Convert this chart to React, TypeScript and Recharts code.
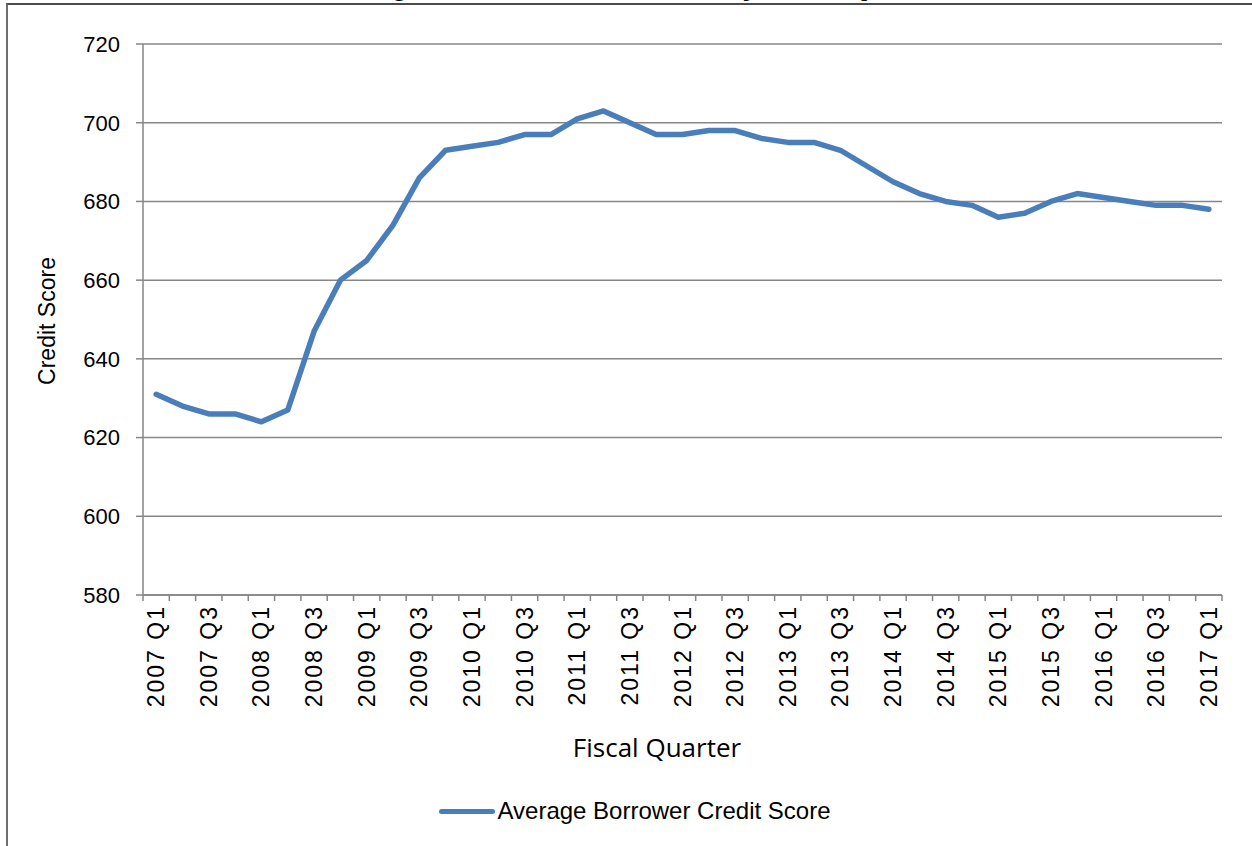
import { LineChart, Line, XAxis, YAxis, CartesianGrid, Legend } from 'recharts';

const QUARTERS = [
  '2007 Q1', '2007 Q2', '2007 Q3', '2007 Q4',
  '2008 Q1', '2008 Q2', '2008 Q3', '2008 Q4',
  '2009 Q1', '2009 Q2', '2009 Q3', '2009 Q4',
  '2010 Q1', '2010 Q2', '2010 Q3', '2010 Q4',
  '2011 Q1', '2011 Q2', '2011 Q3', '2011 Q4',
  '2012 Q1', '2012 Q2', '2012 Q3', '2012 Q4',
  '2013 Q1', '2013 Q2', '2013 Q3', '2013 Q4',
  '2014 Q1', '2014 Q2', '2014 Q3', '2014 Q4',
  '2015 Q1', '2015 Q2', '2015 Q3', '2015 Q4',
  '2016 Q1', '2016 Q2', '2016 Q3', '2016 Q4',
  '2017 Q1',
];

const CREDIT_SCORE = [
  631, 628, 626, 626,
  624, 627, 647, 660,
  665, 674, 686, 693,
  694, 695, 697, 697,
  701, 703, 700, 697,
  697, 698, 698, 696,
  695, 695, 693, 689,
  685, 682, 680, 679,
  676, 677, 680, 682,
  681, 680, 679, 679,
  678,
];

const Y_TICKS = [580, 600, 620, 640, 660, 680, 700, 720];

const W = 1252;
const H = 846;
const PLOT_LEFT = 143;
const PLOT_RIGHT = 1222;
const PLOT_TOP = 44;
const PLOT_BOTTOM = 595;
const STEP = (PLOT_RIGHT - PLOT_LEFT) / QUARTERS.length;

const FONT = '"Liberation Sans", Arial, sans-serif';
const GRID = '#868686';
const BLUE = '#4a7ebb';

const data = QUARTERS.map((q, i) => ({ quarter: q, score: CREDIT_SCORE[i] }));

// excel style: tick marks sit between categories, labels on every other one
function QuarterTick(props: any) {
  const { x, y, payload, index } = props;
  const left = x - STEP / 2;
  return (
    <g>
      <line x1={left} x2={left} y1={y} y2={y + 6} stroke={GRID} strokeWidth={1.5} />
      {index === QUARTERS.length - 1 && (
        <line x1={x + STEP / 2} x2={x + STEP / 2} y1={y} y2={y + 6} stroke={GRID} strokeWidth={1.5} />
      )}
      {index % 2 === 0 && (
        <text
          transform={`translate(${x},${y + 10}) rotate(-90)`}
          textAnchor="end"
          dominantBaseline="central"
          fontFamily={FONT}
          fontSize={23}
          letterSpacing={2}
          fill="#000"
        >
          {payload.value}
        </text>
      )}
    </g>
  );
}

function LegendContent() {
  return (
    <div style={{ display: 'flex', justifyContent: 'center', alignItems: 'center', paddingLeft: 18 }}>
      <span style={{ display: 'inline-block', width: 56, height: 5, background: BLUE, borderRadius: 3, marginRight: 2 }} />
      <span style={{ fontFamily: FONT, fontSize: 24, color: '#000' }}>Average Borrower Credit Score</span>
    </div>
  );
}

export default function App() {
  return (
    <div style={{ position: 'absolute', left: 0, top: 0, width: W, height: H, background: '#fff' }}>
      <LineChart
        width={W}
        height={H}
        data={data}
        margin={{ top: PLOT_TOP, right: W - PLOT_RIGHT, bottom: H - PLOT_BOTTOM - 120, left: PLOT_LEFT - 80 }}
      >
        {/* title sits above the visible frame, only its descenders peek in */}
        <text x={632} y={-5} textAnchor="middle" fontFamily={FONT} fontWeight="bold" fontSize={27} fill="#000">
          Average Borrower Credit Score by Fiscal Quarter
        </text>
        <CartesianGrid vertical={false} stroke={GRID} strokeWidth={1.5} />
        <XAxis
          dataKey="quarter"
          height={120}
          interval={0}
          padding={{ left: STEP / 2, right: STEP / 2 }}
          tickLine={false}
          tickSize={0}
          tickMargin={0}
          axisLine={{ stroke: GRID, strokeWidth: 1.5 }}
          tick={<QuarterTick />}
        />
        <YAxis
          width={80}
          domain={[580, 720]}
          ticks={Y_TICKS}
          interval={0}
          tickSize={7}
          tickMargin={16}
          tickLine={{ stroke: GRID, strokeWidth: 1.5 }}
          axisLine={{ stroke: GRID, strokeWidth: 1.5 }}
          tick={{ fill: '#000', fontFamily: FONT, fontSize: 22 }}
        />
        <text
          transform="translate(47,321) rotate(-90)"
          textAnchor="middle"
          dominantBaseline="central"
          fontFamily={FONT}
          fontSize={23}
          fill="#000"
        >
          Credit Score
        </text>
        <text x={657} y={757} textAnchor="middle" fontFamily='"Open Sans", sans-serif' fontSize={26} fill="#000">
          Fiscal Quarter
        </text>
        <Legend
          layout="vertical"
          align="center"
          verticalAlign="middle"
          wrapperStyle={{ top: 797, left: 0, width: W }}
          content={<LegendContent />}
        />
        <Line
          type="linear"
          dataKey="score"
          stroke={BLUE}
          strokeWidth={5.5}
          strokeLinejoin="round"
          strokeLinecap="round"
          dot={false}
          isAnimationActive={false}
        />
      </LineChart>
      <div
        style={{
          position: 'absolute',
          left: 6,
          top: 3,
          width: W,
          height: H,
          borderLeft: '2px solid #6e6e6e',
          borderTop: '2px solid #4a4a4a',
          pointerEvents: 'none',
        }}
      />
    </div>
  );
}
